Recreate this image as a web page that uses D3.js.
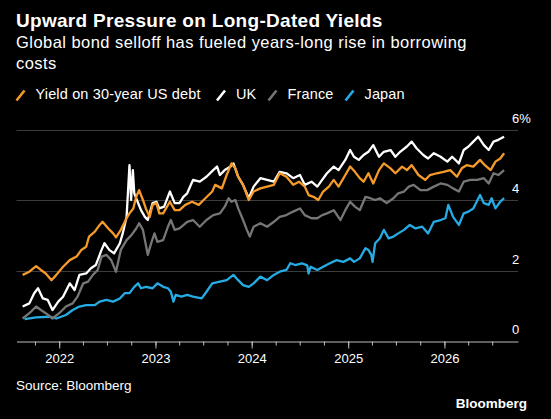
<!DOCTYPE html>
<html>
<head>
<meta charset="utf-8">
<script src="https://cdn.jsdelivr.net/npm/d3@7"></script>
<style>
  body { margin: 0; background: #000; }
  svg { display: block; font-family: "Liberation Sans", Arial, sans-serif; }
  .gridLine { stroke: #3c3c3c; stroke-width: 1; }
  .axis path, .axis line { stroke: #bdbdbd; }
  .axis text { fill: #fff; font-size: 13px; }
</style>
</head>
<body>
<script>
//series data, dates as fractional years, values in percent
var seriesNames = ["Yield on 30-year US debt", "UK", "France", "Japan"];
var seriesColors = ["#f59a2a", "#ffffff", "#767676", "#26ace4"];

var usYears = [2021.62,2021.69,2021.76,2021.81,2021.86,2021.92,2021.97,2022.04,2022.11,2022.18,
    2022.23,2022.28,2022.31,2022.37,2022.42,2022.45,2022.51,2022.56,2022.59,2022.64,
    2022.70,2022.73,2022.77,2022.80,2022.83,2022.87,2022.90,2022.94,2022.97,2023.01,
    2023.04,2023.08,2023.15,2023.20,2023.25,2023.31,2023.38,2023.45,2023.50,2023.59,
    2023.62,2023.69,2023.74,2023.79,2023.83,2023.86,2023.91,2023.97,2024.02,2024.09,
    2024.16,2024.23,2024.29,2024.36,2024.43,2024.49,2024.55,2024.59,2024.64,2024.69,
    2024.74,2024.80,2024.85,2024.90,2024.97,2025.02,2025.07,2025.12,2025.16,2025.21,
    2025.26,2025.32,2025.37,2025.44,2025.49,2025.56,2025.61,2025.66,2025.73,2025.80,
    2025.85,2025.92,2025.99,2026.06,2026.13,2026.18,2026.23,2026.30,2026.37,2026.42,
    2026.48,2026.53,2026.58,2026.62];
var usYield = [1.88,1.97,2.13,2.02,1.92,1.73,1.88,2.11,2.30,2.40,
    2.59,2.68,2.97,3.11,3.30,3.39,3.20,3.06,2.95,3.16,
    3.49,3.63,3.77,4.10,4.29,4.01,3.77,3.53,3.87,3.92,
    3.63,3.63,3.96,3.72,3.72,3.87,3.96,3.87,4.01,4.25,
    4.44,4.34,4.72,5.05,4.91,4.67,4.44,4.01,4.25,4.34,
    4.39,4.44,4.77,4.67,4.44,4.53,4.39,4.15,4.10,4.01,
    4.25,4.39,4.58,4.39,4.72,4.96,4.81,4.63,4.53,4.77,
    4.48,4.86,5.05,4.91,4.77,4.96,4.86,5.00,4.72,4.58,
    4.72,4.77,4.81,4.86,4.67,4.91,5.00,4.96,5.15,5.00,
    4.86,5.10,5.19,5.34];

var ukYears = [2021.62,2021.69,2021.74,2021.78,2021.83,2021.88,2021.93,2021.99,2022.04,2022.11,
    2022.16,2022.21,2022.28,2022.33,2022.38,2022.44,2022.47,2022.52,2022.57,2022.63,
    2022.66,2022.70,2022.73,2022.747,2022.765,2022.78,2022.82,2022.85,2022.89,2022.92,
    2022.97,2023.01,2023.04,2023.09,2023.15,2023.20,2023.25,2023.29,2023.33,2023.39,
    2023.46,2023.53,2023.60,2023.64,2023.67,2023.72,2023.78,2023.81,2023.86,2023.91,
    2023.97,2024.02,2024.09,2024.16,2024.23,2024.29,2024.36,2024.43,2024.50,2024.55,
    2024.62,2024.68,2024.73,2024.78,2024.85,2024.90,2024.97,2025.02,2025.06,2025.11,
    2025.16,2025.21,2025.26,2025.32,2025.37,2025.44,2025.49,2025.54,2025.61,2025.66,
    2025.71,2025.78,2025.83,2025.89,2025.96,2026.03,2026.08,2026.15,2026.20,2026.25,
    2026.30,2026.35,2026.41,2026.46,2026.51,2026.56,2026.62];
var ukYield = [0.98,1.07,1.36,1.50,1.21,1.17,0.88,1.12,1.26,1.64,
    1.45,1.88,1.92,2.07,2.16,2.59,2.78,2.59,2.49,2.78,
    3.06,3.53,5.00,4.01,4.86,4.20,3.92,3.72,3.53,3.44,
    3.92,3.96,3.77,3.82,4.25,3.92,3.92,4.10,4.20,4.58,
    4.53,4.67,4.86,4.96,4.72,4.86,4.96,5.05,4.67,4.44,
    4.06,4.39,4.63,4.58,4.53,4.81,4.77,4.63,4.72,4.44,
    4.53,4.39,4.58,4.77,4.96,4.86,5.15,5.43,5.24,5.15,
    5.29,5.38,5.57,5.24,5.38,5.43,5.24,5.38,5.53,5.67,
    5.48,5.29,5.19,5.34,5.24,5.10,5.24,5.05,5.43,5.53,
    5.67,5.81,5.57,5.43,5.67,5.72,5.81];

var frYears = [2021.62,2021.69,2021.76,2021.81,2021.86,2021.93,2022.00,2022.07,2022.14,2022.19,
    2022.25,2022.30,2022.35,2022.40,2022.44,2022.49,2022.54,2022.59,2022.64,2022.70,
    2022.75,2022.80,2022.83,2022.87,2022.92,2022.96,2022.99,2023.02,2023.08,2023.13,
    2023.16,2023.20,2023.25,2023.33,2023.39,2023.46,2023.53,2023.60,2023.67,2023.72,
    2023.76,2023.79,2023.83,2023.86,2023.91,2023.95,2023.98,2024.02,2024.09,2024.16,
    2024.23,2024.29,2024.36,2024.43,2024.50,2024.55,2024.62,2024.68,2024.73,2024.78,
    2024.85,2024.92,2024.97,2025.02,2025.07,2025.12,2025.18,2025.23,2025.28,2025.33,
    2025.40,2025.47,2025.52,2025.58,2025.63,2025.68,2025.75,2025.82,2025.89,2025.96,
    2026.03,2026.09,2026.15,2026.20,2026.27,2026.34,2026.41,2026.46,2026.51,2026.56,2026.62];
var frYield = [0.64,0.79,0.98,0.88,0.79,0.64,0.79,0.98,1.07,1.26,
    1.64,1.69,1.88,2.02,2.40,2.45,2.30,1.97,2.59,2.87,
    3.01,3.20,3.35,3.16,2.45,2.82,3.06,2.82,2.87,3.25,
    3.44,3.16,3.20,3.39,3.44,3.25,3.44,3.58,3.63,3.82,
    4.06,3.96,4.01,3.77,3.44,3.16,2.97,3.25,3.35,3.25,
    3.39,3.53,3.58,3.68,3.77,3.58,3.49,3.49,3.58,3.63,
    3.72,3.44,3.72,3.96,3.82,3.72,4.10,4.06,4.01,4.06,
    3.92,4.06,4.20,4.25,4.39,4.44,4.29,4.29,4.39,4.48,
    4.44,4.34,4.25,4.53,4.58,4.58,4.63,4.48,4.77,4.72,4.86];

var jpYears = [2021.64,2021.76,2021.90,2021.97,2022.07,2022.14,2022.21,2022.28,2022.37,2022.42,
    2022.49,2022.56,2022.63,2022.68,2022.73,2022.78,2022.82,2022.85,2022.90,2022.97,
    2023.02,2023.08,2023.13,2023.16,2023.187,2023.21,2023.27,2023.33,2023.39,2023.48,
    2023.53,2023.59,2023.67,2023.74,2023.81,2023.86,2023.91,2023.97,2024.02,2024.09,
    2024.16,2024.23,2024.29,2024.36,2024.40,2024.45,2024.52,2024.575,2024.59,2024.61,
    2024.68,2024.74,2024.81,2024.88,2024.95,2025.02,2025.06,2025.12,2025.18,2025.21,
    2025.24,2025.253,2025.28,2025.33,2025.37,2025.42,2025.47,2025.52,2025.58,2025.64,
    2025.70,2025.77,2025.83,2025.89,2025.96,2026.01,2026.04,2026.09,2026.15,2026.20,
    2026.25,2026.30,2026.37,2026.41,2026.46,2026.49,2026.53,2026.58,2026.62];
var jpYield = [0.62,0.67,0.69,0.64,0.74,0.88,0.98,1.02,1.02,1.12,
    1.17,1.12,1.21,1.36,1.36,1.54,1.64,1.50,1.54,1.50,
    1.64,1.54,1.50,1.40,1.12,1.31,1.26,1.31,1.26,1.21,
    1.40,1.64,1.69,1.73,1.88,1.73,1.59,1.54,1.64,1.83,
    1.73,1.88,1.97,2.02,2.21,2.16,2.21,2.15,1.92,2.11,
    2.02,2.11,2.21,2.30,2.25,2.35,2.25,2.35,2.64,2.59,
    2.45,2.25,2.78,2.92,3.16,2.92,2.97,3.06,3.16,3.30,
    3.20,3.25,3.06,3.39,3.44,3.49,3.87,3.53,3.30,3.63,
    3.68,3.77,4.15,3.92,3.87,4.06,3.77,3.96,4.06];

var yTicks = [0, 2, 4, 6];
var yTickLabels = ["0", "2", "4", "6%"];
var xYearLabels = [2022, 2023, 2024, 2025, 2026];

//convert fractional year to Date
function fromYear(t){
    var y = Math.floor(t),
        start = new Date(y, 0, 1),
        end = new Date(y + 1, 0, 1);
    return new Date(+start + (t - y) * (end - start));
}

window.onload = drawChart();

function drawChart(){
    var width = 551,
        height = 419;

    var svg = d3.select("body")
        .append("svg")
        .attr("width", width)
        .attr("height", height);

    svg.append("rect")
        .attr("width", width)
        .attr("height", height)
        .attr("fill", "#000");

    //plot frame
    var left = 16.5, right = 518, top = 130, bottom = 341;

    var x = d3.scaleTime()
        .domain([new Date(2021, 6, 23), new Date(2026, 9, 7)])
        .range([left, right]);

    var y = d3.scaleLinear()
        .domain([0, 6])
        .range([bottom, top]);

    //title block
    svg.append("text")
        .attr("x", 16)
        .attr("y", 27)
        .attr("fill", "#fff")
        .style("font-size", "19px")
        .style("font-weight", "bold")
        .style("letter-spacing", "0.3px")
        .text("Upward Pressure on Long-Dated Yields");

    var sub = svg.append("text")
        .attr("fill", "#fff")
        .style("font-size", "16.5px")
        .style("letter-spacing", "0.45px");
    sub.append("tspan").attr("x", 16).attr("y", 48)
        .text("Global bond selloff has fueled years-long rise in borrowing");
    sub.append("tspan").attr("x", 16).attr("y", 69)
        .text("costs");

    //legend
    var legendX = [16.5, 217, 268.5, 345.5];
    var legend = svg.selectAll(".legendItem")
        .data(seriesNames)
        .enter()
        .append("g")
        .attr("class", "legendItem")
        .attr("transform", function(d, i){ return "translate(" + legendX[i] + ",0)"; });

    legend.append("line")
        .attr("x1", 0).attr("y1", 100.5)
        .attr("x2", 8).attr("y2", 90.5)
        .attr("stroke", function(d, i){ return seriesColors[i]; })
        .attr("stroke-width", 2.6);

    legend.append("text")
        .attr("x", 19)
        .attr("y", 99)
        .attr("fill", "#fff")
        .style("font-size", "14.5px")
        .style("letter-spacing", "0.15px")
        .text(function(d){ return d; });

    //gridlines
    svg.selectAll(".gridLine")
        .data(yTicks.slice(1))
        .enter()
        .append("line")
        .attr("class", "gridLine")
        .attr("x1", left)
        .attr("x2", right)
        .attr("y1", function(d){ return Math.round(y(d)) + 0.5; })
        .attr("y2", function(d){ return Math.round(y(d)) + 0.5; });

    //y labels sit above their line
    svg.selectAll(".yLabel")
        .data(yTicks)
        .enter()
        .append("text")
        .attr("class", "yLabel")
        .attr("x", 512)
        .attr("y", function(d){ return y(d) - 7; })
        .attr("fill", "#fff")
        .style("font-size", "13px")
        .text(function(d, i){ return yTickLabels[i]; });

    //lines, US on top
    var line = d3.line()
        .x(function(d){ return x(fromYear(d[0])); })
        .y(function(d){ return y(d[1]); });

    var allSeries = [
        d3.zip(usYears, usYield),
        d3.zip(ukYears, ukYield),
        d3.zip(frYears, frYield),
        d3.zip(jpYears, jpYield)
    ];

    svg.selectAll(".series")
        .data(allSeries.slice().reverse())
        .enter()
        .append("path")
        .attr("class", "series")
        .attr("d", line)
        .attr("fill", "none")
        .attr("stroke", function(d, i){ return seriesColors[3 - i]; })
        .attr("stroke-width", 2.3)
        .attr("stroke-linejoin", "round");

    //x axis: quarterly minor ticks, yearly major ticks with labels
    var quarters = d3.timeMonth.every(3).range(new Date(2021, 9, 1), new Date(2026, 9, 1));
    var years = xYearLabels.map(function(yr){ return new Date(yr, 0, 1); });

    svg.append("g")
        .attr("class", "axis")
        .attr("transform", "translate(0," + (bottom + 0.5) + ")")
        .call(d3.axisBottom(x).tickValues(quarters).tickSize(4).tickFormat("").tickSizeOuter(0));

    svg.append("g")
        .attr("class", "axis")
        .attr("transform", "translate(0," + (bottom + 0.5) + ")")
        .call(d3.axisBottom(x).tickValues(years).tickSize(7).tickSizeOuter(0)
            .tickFormat(d3.timeFormat("%Y")))
        .call(function(g){ g.select(".domain").remove(); })
        .selectAll("text")
        .attr("y", 21)
        .attr("dy", 0);

    //footer
    svg.append("text")
        .attr("x", 16)
        .attr("y", 390)
        .attr("fill", "#fff")
        .style("font-size", "13.5px")
        .text("Source: Bloomberg");

    svg.append("text")
        .attr("x", 527)
        .attr("y", 408)
        .attr("text-anchor", "end")
        .attr("fill", "#fff")
        .style("font-size", "13.5px")
        .style("font-weight", "bold")
        .text("Bloomberg");
}
</script>
</body>
</html>
